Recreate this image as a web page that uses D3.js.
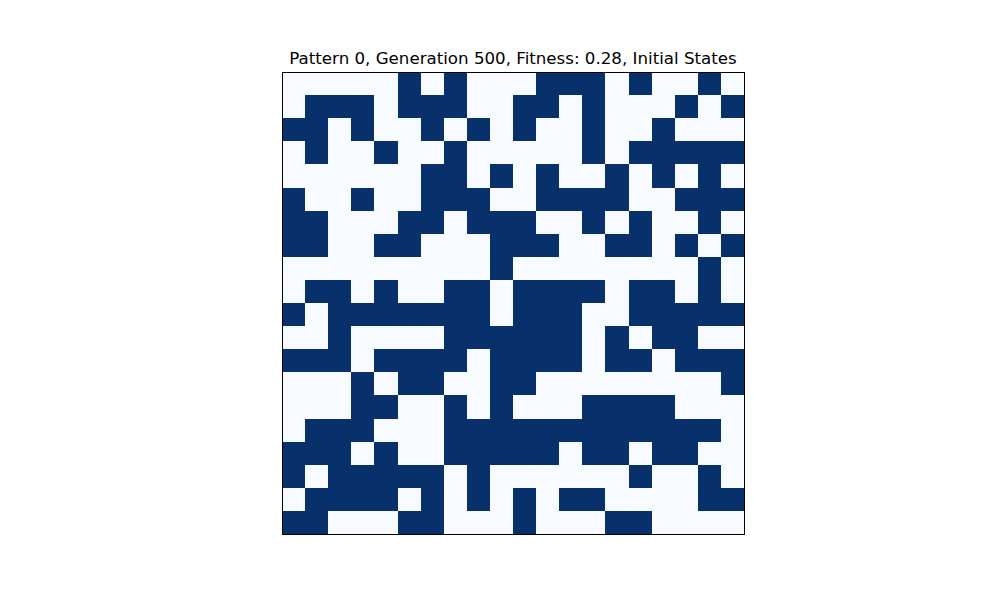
<!DOCTYPE html>
<html>
<head>
<meta charset="utf-8">
<script src="https://cdn.jsdelivr.net/npm/d3@7"></script>
<style>
  body { margin: 0; background: #fff; }
  svg { display: block; }
</style>
</head>
<body>
<svg id="chart" width="1000" height="600"></svg>
<script>
// cell states, one row per line (0 = off, 1 = on)
const titleText = "Pattern 0, Generation 500, Fitness: 0.28, Initial States";
const stateColors = ["#f7fbff", "#08306b"];
const cellStates = [
  [0,0,0,0,0,1,0,1,0,0, 0,1,1,1,0,1,0,0,1,0],
  [0,1,1,1,0,1,1,1,0,0, 1,1,0,1,0,0,0,1,0,1],
  [1,1,0,1,0,0,1,0,1,0, 1,0,0,1,0,0,1,0,0,0],
  [0,1,0,0,1,0,0,1,0,0, 0,0,0,1,0,1,1,1,1,1],
  [0,0,0,0,0,0,1,1,0,1, 0,1,0,0,1,0,1,0,1,0],
  [1,0,0,1,0,0,1,1,1,0, 0,1,1,1,1,0,0,1,1,1],
  [1,1,0,0,0,1,1,0,1,1, 1,0,0,1,0,1,0,0,1,0],
  [1,1,0,0,1,1,0,0,0,1, 1,1,0,0,1,1,0,1,0,1],
  [0,0,0,0,0,0,0,0,0,1, 0,0,0,0,0,0,0,0,1,0],
  [0,1,1,0,1,0,0,1,1,0, 1,1,1,1,0,1,1,0,1,0],
  [1,0,1,1,1,1,1,1,1,0, 1,1,1,0,0,1,1,1,1,1],
  [0,0,1,0,0,0,0,1,1,1, 1,1,1,0,1,0,1,1,0,0],
  [1,1,1,0,1,1,1,1,0,1, 1,1,1,0,1,1,0,1,1,1],
  [0,0,0,1,0,1,1,0,0,1, 1,0,0,0,0,0,0,0,0,1],
  [0,0,0,1,1,0,0,1,0,1, 0,0,0,1,1,1,1,0,0,0],
  [0,1,1,1,0,0,0,1,1,1, 1,1,1,1,1,1,1,1,1,0],
  [1,1,1,0,1,0,0,1,1,1, 1,1,0,1,1,0,1,1,0,0],
  [1,0,1,1,1,1,1,0,1,0, 0,0,0,0,0,1,0,0,1,0],
  [0,1,1,1,1,0,1,0,1,0, 1,0,1,1,0,0,0,0,1,1],
  [1,1,0,0,0,1,1,0,0,0, 1,0,0,0,1,1,0,0,0,0]
];

const svg = d3.select("#chart");
const plot = { left: 282, top: 72, size: 462 };

const nRows = cellStates.length;
const nCols = cellStates[0].length;

const x = d3.scaleBand()
  .domain(d3.range(nCols))
  .range([plot.left, plot.left + plot.size])
  .paddingInner(0).paddingOuter(0);

const y = d3.scaleBand()
  .domain(d3.range(nRows))
  .range([plot.top, plot.top + plot.size])
  .paddingInner(0).paddingOuter(0);

const color = d3.scaleOrdinal().domain([0, 1]).range(stateColors);

// flatten for the data join
const cells = [];
cellStates.forEach((row, r) => row.forEach((v, c) => cells.push({ r, c, v })));

svg.append("g")
  .attr("shape-rendering", "crispEdges")
  .selectAll("rect.cell")
  .data(cells)
  .join("rect")
  .attr("class", "cell")
  .attr("x", d => x(d.c))
  .attr("y", d => y(d.r))
  .attr("width", x.bandwidth() + 0.5)
  .attr("height", y.bandwidth() + 0.5)
  .attr("fill", d => color(d.v));

// frame around the image
svg.append("rect")
  .attr("x", plot.left)
  .attr("y", plot.top)
  .attr("width", plot.size)
  .attr("height", plot.size)
  .attr("fill", "none")
  .attr("stroke", "#000")
  .attr("stroke-width", 1)
  .attr("shape-rendering", "crispEdges");

svg.append("text")
  .attr("x", plot.left + plot.size / 2)
  .attr("y", plot.top - 8)
  .attr("text-anchor", "middle")
  .attr("font-family", "DejaVu Sans, sans-serif")
  .attr("font-size", 16.67)
  .attr("fill", "#000")
  .text(titleText);
</script>
</body>
</html>
